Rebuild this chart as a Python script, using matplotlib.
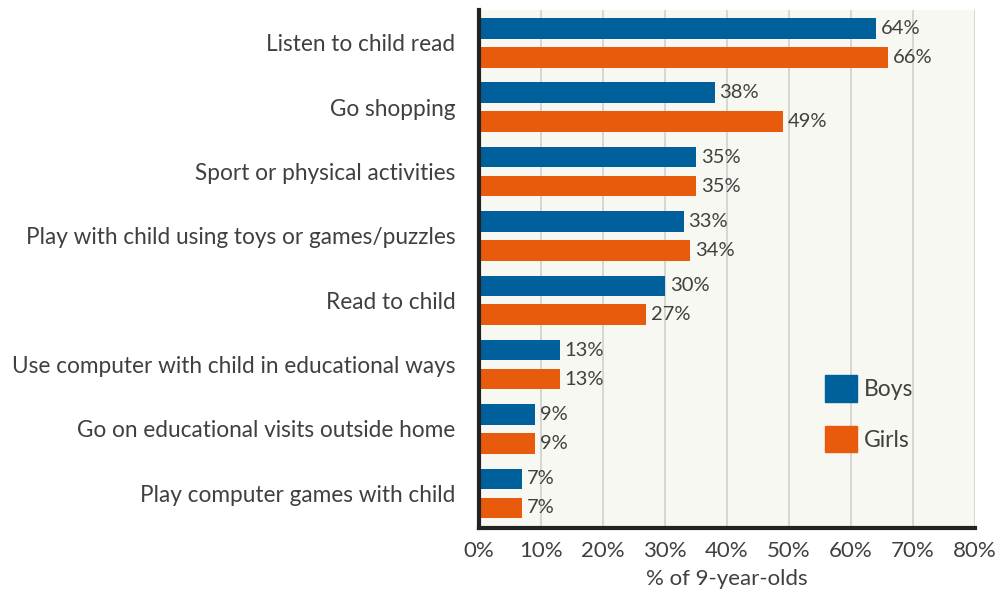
import matplotlib
matplotlib.use("Agg")
import matplotlib.pyplot as plt
from matplotlib.patches import Patch
import numpy as np

categories = [
    "Listen to child read",
    "Go shopping",
    "Sport or physical activities",
    "Play with child using toys or games/puzzles",
    "Read to child",
    "Use computer with child in educational ways",
    "Go on educational visits outside home",
    "Play computer games with child",
]
boys = [64, 38, 35, 33, 30, 13, 9, 7]
girls = [66, 49, 35, 34, 27, 13, 9, 7]
x_ticks = [0, 10, 20, 30, 40, 50, 60, 70, 80]

BLUE = "#00609c"
ORANGE = "#e95b0c"
TEXT = "#404040"

plt.rcParams["font.family"] = ["Lato", "DejaVu Sans"]

fig = plt.figure(figsize=(10, 5.94), dpi=100)
ax = fig.add_axes([0.479, 0.111, 0.496, 0.872])
ax.set_facecolor("#f6f8f1")

y = np.arange(len(categories))
h = 0.32
off = 0.225
ax.barh(y - off, boys, height=h, color=BLUE, zorder=3)
ax.barh(y + off, girls, height=h, color=ORANGE, zorder=3)

for yi, b, g in zip(y, boys, girls):
    ax.text(b + 0.8, yi - off, f"{b}%", va="center", ha="left", fontsize=14.5, color=TEXT)
    ax.text(g + 0.8, yi + off, f"{g}%", va="center", ha="left", fontsize=14.5, color=TEXT)

ax.set_ylim(len(categories) - 0.46, -0.51)
ax.set_xlim(0, 80)
ax.set_yticks(y)
ax.set_yticklabels(categories, fontsize=16.3, color=TEXT)
ax.set_xticks(x_ticks)
ax.set_xticklabels([f"{t}%" for t in x_ticks], fontsize=16, color=TEXT)
ax.tick_params(axis="y", length=0, pad=17)
ax.tick_params(axis="x", length=0, pad=9)
ax.set_xlabel("% of 9-year-olds", fontsize=16, color=TEXT, labelpad=6)

ax.grid(axis="x", color="#d0d0d0", linewidth=1.2, zorder=0)
for s in ["top", "right"]:
    ax.spines[s].set_visible(False)
for s in ["left", "bottom"]:
    ax.spines[s].set_color("#222222")
    ax.spines[s].set_linewidth(3)
    ax.spines[s].set_zorder(4)

handles = [Patch(color=BLUE, label="Boys"), Patch(color=ORANGE, label="Girls")]
ax.legend(handles=handles, loc="upper left", bbox_to_anchor=(0.655, 0.335),
          frameon=False, fontsize=16.5, handlelength=1.4, handleheight=1.4,
          labelspacing=1.05, handletextpad=0.3, labelcolor=TEXT)

fig.savefig("out.png", dpi=100)
